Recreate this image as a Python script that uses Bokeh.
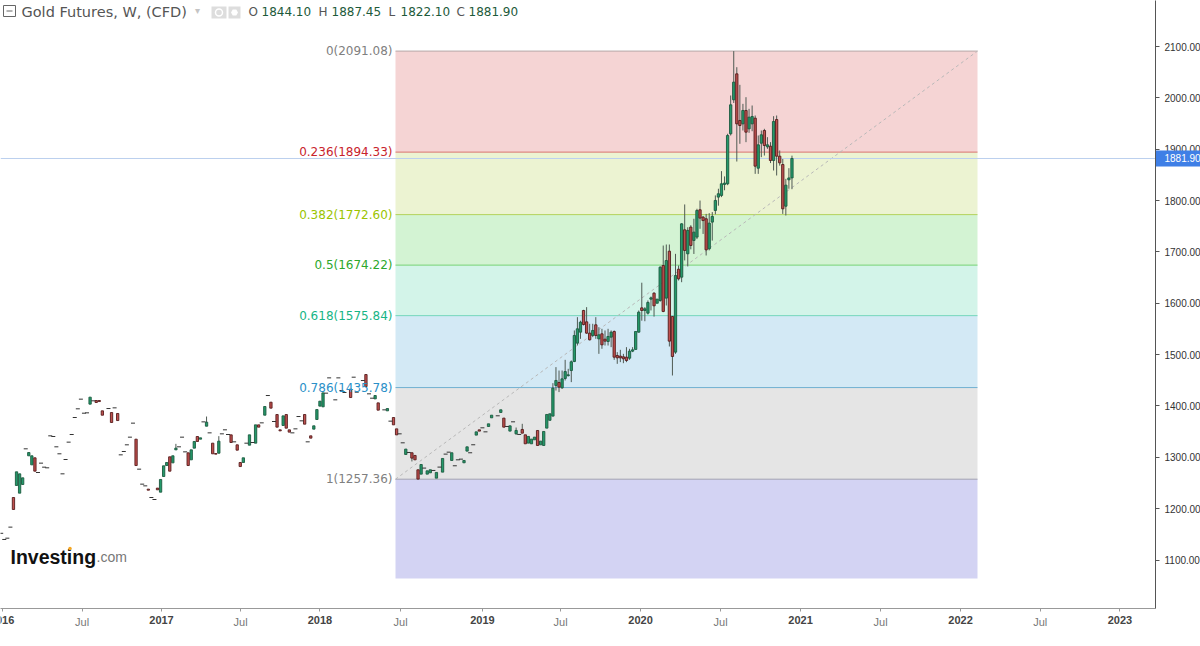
from bokeh.plotting import figure
from bokeh.models import Range1d, LinearAxis, FixedTicker
from bokeh.core.properties import value
from bokeh.embed import file_html
from bokeh.resources import INLINE
import numpy as np

opens = [1152,1140,1142.5,1164,1221.7,1245.1,1230.2,1247,1316.5,1302.9,
1285.3,1299,1270.4,1288.6,1280.8,1279.5,1341.8,1340.5,1320.4,1306.8,
1267.8,1295.7,1329.5,1344.4,1377.5,1394.4,1413.2,1385.9,1386.6,1403.5,
1410,1410.6,1410.6,1390.5,None,1395,1387.2,1396.3,1385.3,1304.8,
1311.3,1324.3,1339.2,1366.5,1335.3,1276.9,1247.7,1244.4,1238,1221.7,
1217.8,1240,1232.1,1262.6,1284,1300.9,1289.2,1314.5,1320.4,1339.2,
1310.6,1308.7,1295.1,1317.8,1340.5,1335.3,1369,1360.6,1347.6,1327.5,
1307.4,1308,1345.7,1353.5,1344.4,1343.7,1330.1,1324.3,1289.9,1289.9,
1327.5,1323.6,1328.8,1327.5,1363.2,1367.1,1382,1420.3,1407.3,1369.7,
1383.3,1353.5,1361.9,1383.3,1353.5,1347.6,1355.4,1379.4,1371,1383.3,
1330.1,1341.8,1354.8,1373.6,1399.6,1398.3,1424.9,1454.7,None,1411.9,
1454.7,1430,1426.2,None,1432.7,1456,1426.8,None,1449.5,1461.2,
1423.6,1415.1,1413.8,1406,None,1392.4,1390.5,1370.4,1377.5,1355.4,
1345.7,1328.2,1305.5,1309.4,1308.8,1303.6,1275.7,1267.2,1279,1267.2,
1269.8,1274.4,1259.4,1280.9,1271.1,1306.2,1310,1293.8,1283.5,1295.1,
1296.4,1289.3,1312,1308.8,1324.4,1343.2,1353.5,1357.4,1349.6,1360,
1376.9,None,1380.8,1387.3,1376.3,1360,1351,1369.1,1345.8,1344.5,
1354.2,1343.8,1327.6,1326.3,1334.1,1352.2,1324.3,1323,1356.8,1372,
1380.2,1439.9,1445.7,1435.3,1453.5,1459,1469,1486.6,1522.3,1543.7,
1585.9,1563.8,1541.8,1537.2,1558,1530.7,1540.5,1530,1525.5,1534,
1545,1498.3,1497,1495.7,1495,1493,1506.7,1510,1543.7,1591,
1585.9,1580.7,1608,1619.6,1600,1605.3,1673.5,1610,1701.4,1574.2,
1504.8,1666.3,1650.8,1743,1696.3,1748.3,1722.3,1728.8,1782,1767.7,
1764.5,1706,1758,1780.7,1806.7,1810,1831.3,1832.6,1930,1996.2,
2046.7,1955.9,1949.4,1975.4,1939.7,1949.4,1960.4,1863,1911.7,1936.4,
1904.6,1905.9,1878,1957.8,1886.4,1870.2,1789,1840.4,1844.1]

closes = [1152,1140,1142.5,1164,1198.4,1271.7,1267.8,1260,1316.5,1309.3,
1302.9,1273,1270.4,1288.6,1280.8,1279.5,1341.8,1340.5,1320.4,1306.8,
1267.8,1295.7,1329.5,1344.4,1377.5,1394.4,1413.2,1385.9,1386.6,1417.1,
1410,1406.7,1408.6,1382,None,1395,1367.8,1396.3,1371.6,1304.8,
1311.3,1324.3,1339.2,1366.5,1284,1276.9,1247.7,1244.4,1236,1221.7,
1217.8,1236.7,1256.8,1283.4,1289.9,1273,1302.9,1317.8,1320.4,1339.2,
1310.6,1284,1314.5,1330.8,1330.8,1337.9,1369,1368.4,1347.6,1306.8,
1306.1,1331.4,1345.7,1353.5,1344.4,1328.8,1330.1,1313.9,1282,1299,
1327.5,1343.7,1328.8,1363.2,1358.7,1367.1,1398.9,1420.3,1395.7,1369.7,
1358.7,1351.5,1380.7,1356.7,1349,1347.6,1355.4,1379.4,1371,1364.5,
1330.1,1337.3,1361.3,1393,1409.3,1425.5,1424.9,1454.7,None,1411.9,
1454.7,1430,1426.2,None,1416.4,1456,1426.8,None,1449.5,1437.8,
1423.6,1415.1,1420.3,1391.8,None,1392.4,1395,1370.4,1363.2,1343.7,
1345.7,1328.2,1316,1309.4,1298.4,1295.1,1257.5,1286,1279,1273.7,
1275.7,1274.4,1270.5,1280.9,1297.7,1306.2,1310,1308.8,1283.5,1295.1,
1296.4,1293.8,1320.4,1308.8,1324.4,1349.6,1351,1357.4,1349.6,1365.2,
1382,None,1380.8,1392.5,1358.7,1360,1361.3,1369.1,1352.3,1344.5,
1347,1326.3,1340.6,1335.4,1339.3,1323,1331.5,1350.3,1383.4,1384.7,
1434.7,1449.6,1436.6,1452.8,1467,1460.6,1486,1537.2,1550.2,1563.2,
1558.6,1541.8,1528.8,1547,1537.2,1538.5,1519,1526.2,1535.3,1543.7,
1495,1493.7,1493.7,1491.8,1488.5,1506.7,1509.3,1545,1582.6,1585.9,
1589.1,1601.5,1610.5,1595,1608,1670.2,1584,1683.2,1526.2,1496.3,
1654,1647.5,1754.6,1702.8,1741.8,1712.5,1738.5,1780.7,1765.8,1761,
1704,1756,1769,1800.2,1813.2,1832.6,1834,1926.7,1986.4,2030.6,
1949.4,1946.1,1975.4,1933.2,1962.4,1963.7,1867,1908.5,1928,1907.2,
1908.5,1878,1953.9,1886.4,1873.4,1783.9,1830,1844,1881.9]

wick_weeks = [57,67,71,134,168,170,180,181,182,183,184,185,186,187,188,189,190,191,192,193,194,195,196,197,198,199,
200,201,202,203,204,205,206,208,209,210,211,212,213,215,216,217,218,219,220,221,222,223,224,225,226,227,228,229,
230,231,232,233,234,235,236,237,238,239,240,241,242,243,244,245,246,247,248,249,250,251,252,253,254,255,256,257,258]
wick_highs = [1326.2,1379.4,1341.2,1308.8,1358,1365.2,1444.4,1475.6,1469,1469,1489.8,1472.3,1488.6,1547,1572.9,1566,1587.2,1592.4,1560,1560,1572.9,1553.4,1550.2,1547,1550.2,1547,
1547,1504.8,1509.3,1501.5,1514.5,1511.3,1514.5,1585.9,1640,1592.4,1605.4,1613,1621.6,1672,1712.4,1714.4,1714.4,1574.2,1696.2,1673.5,1755.9,1792.4,1748,1752,1764.5,1784,1800,1770,
1774,1775.5,1777.5,1810,1823,1857.3,1847,1930,2004.6,2091,2059.7,2025.3,1988.3,2001.3,1978.6,1985.1,1965.6,1926.7,1936.4,1939.7,1923.4,1913.7,1964.3,1965.6,1897.5,1881,1842.3,1863,1887.45]
wick_lows = [1314.5,1360.6,1308,1291.9,1344,1347,1380.2,1430,1427,1433.4,1449.6,1457.4,1446.4,1485.3,1517.7,1530.7,1556.7,1540.5,1527.5,1534,1530.7,1501.5,1511.3,1517.7,1517.7,1514.5,
1489.8,1482,1485.3,1483.3,1485.3,1489.8,1504.8,1543,1566,1565,1578,1586,1574,1603,1582.6,1595.6,1515.8,1459.3,1501.5,1644.3,1641,1683.4,1671.7,1705,1696,1725,1745,1735,
1693,1703,1722,1773,1790,1806.7,1820,1830,1926.7,1990,1876,1910.5,1936.4,1913.7,1931.9,1935,1852,1852,1884.5,1887.7,1900.7,1873,1858.5,1848.8,1868,1774,1770.9,1823,1822.1]

fib_ratios = ["0", "0.236", "0.382", "0.5", "0.618", "0.786", "1"]
fib_prices = [2091.08, 1894.33, 1772.60, 1674.22, 1575.84, 1435.78, 1257.36]
fib_floor = 1064
last_price = 1881.90
price_ticks = [1100, 1200, 1300, 1400, 1500, 1600, 1700, 1800, 1900, 2000, 2100]
jul_ticks = [26.4, 78.1, 130.3, 182.5, 234.7, 286.9, 339]
year_ticks = [0.3, 52.3, 104, 157, 208.6, 260.8, 313, 365]
year_names = ["2016", "2017", "2018", "2019", "2020", "2021", "2022", "2023"]

zone_colors = ["#f5d4d4", "#ecf3d2", "#d3f3d3", "#d3f4e9", "#d3e9f5", "#e5e5e5", "#d3d3f3"]
line_colors = ["#b5a8a8", "#d9736e", "#b4d25a", "#74d274", "#74d6bc", "#6fb0d2", "#a0a0b0"]
text_colors = ["#808080", "#c8232c", "#9bc400", "#2ca82c", "#17b585", "#2a90c8", "#808080"]


def X(px):
    return (px - 0.7) / 3.065


def Y(py):
    return 2100 - (py - 46) / 0.5135


p = figure(width=1200, height=630, frame_width=1155, frame_height=608,
           output_backend="svg", toolbar_location=None,
           x_range=Range1d(X(0), X(1155)), y_range=Range1d(Y(608), Y(0)),
           x_axis_location=None, y_axis_location=None,
           min_border_left=0, min_border_top=0, min_border_right=0, min_border_bottom=0,
           styles={"position": "absolute", "left": "0px", "top": "0px"},
           background_fill_color="white", border_fill_color="white")
p.outline_line_color = None
p.xgrid.visible = False
p.ygrid.visible = False

# Fibonacci zones
tops = fib_prices
bottoms = fib_prices[1:] + [fib_floor]
fl, fr = X(395), X(977)
p.quad(left=fl, right=fr, top=tops, bottom=bottoms, fill_color=zone_colors, line_color=None)
p.segment(x0=fl, x1=fr, y0=fib_prices, y1=fib_prices, line_color=line_colors, line_width=1)
p.line([fl, fr], [fib_prices[-1], fib_prices[0]], line_color="#b8b8b8", line_dash=[3, 3], line_width=1)

# last price line
p.segment(x0=[X(0)], x1=[X(1155)], y0=[last_price], y1=[last_price], line_color="#bcd0ee", line_width=1)

# candles
o = np.array(opens, dtype=float)
c = np.array(closes, dtype=float)
w = np.arange(len(o))
up = c > o
dn = c < o
dj = c == o
p.segment(x0=wick_weeks, x1=wick_weeks, y0=wick_lows, y1=wick_highs, line_color="#4f5a53", line_width=1)
p.vbar(x=w[up], width=0.75, top=c[up], bottom=o[up], fill_color="#23996a", line_color="#1c5a40", line_width=0.9)
p.vbar(x=w[dn], width=0.75, top=o[dn], bottom=c[dn], fill_color="#c0504e", line_color="#551c1c", line_width=0.9)
p.scatter(w[dj], o[dj], marker="dash", size=4, line_color="#333333", line_width=1)

# Fibonacci labels
p.text(x=[X(392)] * 7, y=fib_prices,
       text=[f"{r}({v:.2f})" for r, v in zip(fib_ratios, fib_prices)],
       text_color=text_colors, text_font=value("DejaVu Sans"), text_font_size="12px",
       text_align="right", text_baseline="middle")

# axes
yaxis = LinearAxis(ticker=FixedTicker(ticks=price_ticks))
yaxis.major_label_overrides = {t: f"{t:.2f}" for t in price_ticks}
yaxis.axis_line_color = "#555555"
yaxis.major_tick_line_color = "#555555"
yaxis.major_tick_out = 4
yaxis.major_tick_in = 0
yaxis.minor_tick_out = 0
yaxis.minor_tick_in = 0
yaxis.major_label_standoff = 5
yaxis.major_label_text_font = "Liberation Sans"
yaxis.major_label_text_font_size = "10px"
yaxis.major_label_text_color = "#333333"
p.add_layout(yaxis, "right")

all_ticks = sorted(jul_ticks + year_ticks)
xaxis = LinearAxis(ticker=FixedTicker(ticks=all_ticks))
overrides = {t: "Jul" for t in jul_ticks}
overrides.update({t: " " for t in year_ticks})
xaxis.major_label_overrides = overrides
xaxis.axis_line_color = "#999999"
xaxis.major_tick_line_color = "#999999"
xaxis.major_tick_out = 3
xaxis.major_tick_in = 0
xaxis.minor_tick_out = 0
xaxis.minor_tick_in = 0
xaxis.major_label_standoff = 4
xaxis.major_label_text_font = "Liberation Sans"
xaxis.major_label_text_font_size = "11px"
xaxis.major_label_text_color = "#777777"
p.add_layout(xaxis, "below")

# header
p.quad(left=X(3), right=X(15), top=Y(5), bottom=Y(16), fill_color="white", line_color="#666666", line_width=1)
p.segment(x0=X(6), x1=X(12), y0=Y(10.5), y1=Y(10.5), line_color="#666666", line_width=1)
p.text(x=[X(21)], y=[Y(11)], text=["Gold Futures, W, (CFD)"], text_font=value("DejaVu Sans"),
       text_font_size="14.5px", text_color="#555555", text_baseline="middle")
p.text(x=[X(197)], y=[Y(10)], text=["▾"], text_font=value("DejaVu Sans"), text_font_size="10px",
       text_color="#c4c4c4", text_align="center", text_baseline="middle")
p.quad(left=[X(211), X(228)], right=[X(226), X(240)], top=Y(6), bottom=Y(18), fill_color="#dddddd", line_color=None)
p.scatter([X(218.5)], [Y(12)], marker="circle", size=7, fill_color=None, line_color="white", line_width=1.5)
p.scatter([X(234)], [Y(12)], marker="hex", size=7, fill_color="white", line_color=None)
for lab_x, lab, val_x, val in [(248, "O", 261, "1844.10"), (318, "H", 331, "1887.45"),
                               (388, "L", 400, "1822.10"), (456, "C", 468, "1881.90")]:
    p.text(x=[X(lab_x)], y=[Y(11)], text=[lab], text_font=value("DejaVu Sans"), text_font_size="12px",
           text_color="#555555", text_baseline="middle")
    p.text(x=[X(val_x)], y=[Y(11)], text=[val], text_font=value("DejaVu Sans"), text_font_size="12px",
           text_color="#1d5a3a", text_baseline="middle")

# logo
p.text(x=[X(10)], y=[Y(556)], text=["Investing"], text_font=value("Liberation Sans"), text_font_style="bold",
       text_font_size="19.5px", text_color="#111111", text_baseline="alphabetic")
p.text(x=[X(96)], y=[Y(556)], text=[".com"], text_font=value("Liberation Sans"), text_font_size="14px",
       text_color="#777777", text_baseline="alphabetic")
p.scatter([X(69.5)], [Y(548)], marker="circle", size=3.5, fill_color="#f5a623", line_color=None)

# transparent layer on top for what lies outside the plot area: bold year labels and the last-price tag
q = figure(width=1200, height=630, frame_width=1200, frame_height=630,
           output_backend="svg", toolbar_location=None,
           x_range=Range1d(X(0), X(1200)), y_range=Range1d(Y(630), Y(0)),
           x_axis_location=None, y_axis_location=None,
           min_border_left=0, min_border_top=0, min_border_right=0, min_border_bottom=0,
           styles={"position": "absolute", "left": "0px", "top": "0px"},
           background_fill_alpha=0, border_fill_alpha=0)
q.outline_line_color = None
q.xgrid.visible = False
q.ygrid.visible = False
q.text(x=year_ticks, y=[Y(619.5)] * len(year_ticks), text=year_names, text_font=value("Liberation Sans"),
       text_font_style="bold", text_font_size="11px", text_color="#444444", text_align="center",
       text_baseline="middle")
q.quad(left=X(1155.5), right=X(1200), top=Y(150), bottom=Y(166), fill_color="#3f7fe6", line_color=None)
q.text(x=[X(1164)], y=[last_price], text=[f"{last_price:.2f}"], text_color="white",
       text_font=value("Liberation Sans"), text_font_size="10px", text_baseline="middle")

open("out.html", "w").write(file_html([p, q], INLINE))
